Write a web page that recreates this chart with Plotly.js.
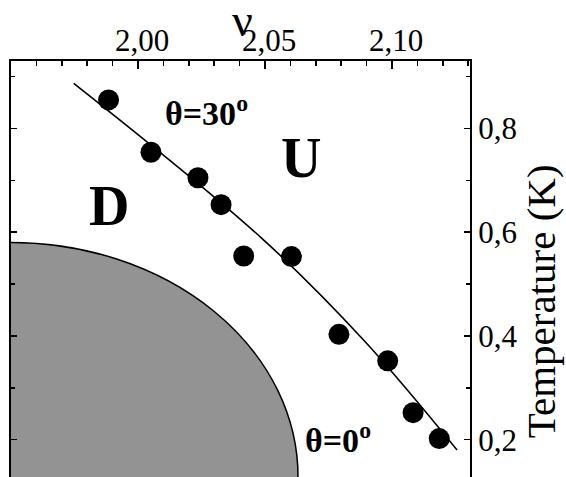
<!DOCTYPE html>
<html>
<head>
<meta charset="utf-8">
<script src="https://cdn.plot.ly/plotly-3.0.1.min.js"></script>
<style>
  html, body { margin: 0; padding: 0; background: #fff; overflow: hidden; }
  #chart { width: 566px; height: 477px; }
</style>
</head>
<body>
<div id="chart"></div>
<script>
// Measured transition points at θ = 30°
const nuPoints   = [1.9884, 2.0051, 2.0236, 2.0327, 2.0416, 2.0604, 2.0791, 2.0983, 2.1083, 2.1186];
const tempPoints = [0.855, 0.754, 0.705, 0.653, 0.554, 0.553, 0.403, 0.352, 0.252, 0.202];

// Guide-to-the-eye curve through the θ = 30° points
const fitNu   = [1.9747, 2.0481, 2.0888, 2.1256];
const fitTemp = [0.887, 0.591, 0.392, 0.180];

// θ = 0° phase boundary: quarter ellipse from the axis corner
const boundaryNuMax = 2.063;
const boundaryTMax  = 0.58;

// Axis ranges and ticks
const nuRange   = [1.950, 2.1307];
const tempRange = [0.128, 0.930];
const nuTickVals   = [2.00, 2.05, 2.10];
const nuTickText   = ['2,00', '2,05', '2,10'];
const tempTickVals = [0.2, 0.4, 0.6, 0.8];
const tempTickText = ['0,2', '0,4', '0,6', '0,8'];

const serif = 'Liberation Serif, Times New Roman, serif';

const nu0 = nuRange[0], t0 = tempRange[0];
const semiNu = boundaryNuMax - nu0;
const semiT  = boundaryTMax - t0;

const traces = [
  {
    x: fitNu, y: fitTemp,
    mode: 'lines',
    line: { color: '#000', width: 1.6, shape: 'spline', smoothing: 1 },
    hoverinfo: 'skip', showlegend: false
  },
  {
    x: nuPoints, y: tempPoints,
    mode: 'markers',
    marker: { color: '#000', size: 21, line: { width: 0 } },
    showlegend: false
  }
];

const layout = {
  width: 566, height: 477,
  margin: { l: 11, r: 96, t: 61, b: 0 },
  paper_bgcolor: '#fff', plot_bgcolor: '#fff',
  font: { family: serif, color: '#000' },
  showlegend: false,
  xaxis: {
    side: 'top',
    range: nuRange,
    tickmode: 'array', tickvals: nuTickVals, ticktext: nuTickText,
    ticks: 'inside', ticklen: 8, tickwidth: 1.5, tickcolor: '#000',
    minor: { dtick: 0.01, tick0: 2.0, ticks: 'inside', ticklen: 5, tickwidth: 1.5, tickcolor: '#000' },
    showline: true, linecolor: '#000', linewidth: 2, mirror: false,
    showgrid: false, zeroline: false,
    ticklabelshift: 4, ticklabelstandoff: -4,
    tickfont: { family: serif, size: 31, color: '#000' }
  },
  yaxis: {
    side: 'right',
    range: tempRange,
    tickmode: 'array', tickvals: tempTickVals, ticktext: tempTickText,
    ticks: 'inside', ticklen: 6, tickwidth: 1.5, tickcolor: '#000',
    minor: { dtick: 0.1, tick0: 0, ticks: 'inside', ticklen: 4, tickwidth: 1.5, tickcolor: '#000' },
    showline: true, linecolor: '#000', linewidth: 2, mirror: 'ticks',
    showgrid: false, zeroline: false,
    tickfont: { family: serif, size: 31, color: '#000' }
  },
  shapes: [
    {
      type: 'circle', xref: 'x', yref: 'y', layer: 'below',
      x0: nu0 - semiNu, x1: nu0 + semiNu,
      y0: t0 - semiT, y1: t0 + semiT,
      fillcolor: '#939393',
      line: { color: '#000', width: 1.5 }
    }
  ],
  annotations: [
    {
      // x-axis title, placed above the tick labels
      text: 'ν',
      xref: 'paper', x: 0.505, xanchor: 'center',
      yref: 'paper', y: 1.098, yanchor: 'middle',
      showarrow: false,
      font: { family: serif, size: 46, color: '#000' }
    },
    {
      // y-axis title on the right
      text: 'Temperature (K)', textangle: -90,
      xref: 'paper', x: 1, xanchor: 'center', xshift: 71,
      yref: 'y', y: 0.467, yanchor: 'middle',
      showarrow: false,
      font: { family: serif, size: 41, color: '#000' }
    },
    {
      text: 'θ=30<sup>o</sup>', x: 2.0269, y: 0.833,
      showarrow: false,
      font: { family: serif, size: 34, color: '#000', weight: 'bold' }
    },
    {
      text: 'U', x: 2.0641, y: 0.7427,
      showarrow: false,
      font: { family: serif, size: 56, color: '#000', weight: 'bold' }
    },
    {
      text: 'D', x: 1.9884, y: 0.650,
      showarrow: false,
      font: { family: serif, size: 56, color: '#000', weight: 'bold' }
    },
    {
      text: 'θ=0<sup>o</sup>', x: 2.0789, y: 0.2037,
      showarrow: false,
      font: { family: serif, size: 34, color: '#000', weight: 'bold' }
    }
  ]
};

Plotly.newPlot('chart', traces, layout, { staticPlot: true, displayModeBar: false });
</script>
</body>
</html>
